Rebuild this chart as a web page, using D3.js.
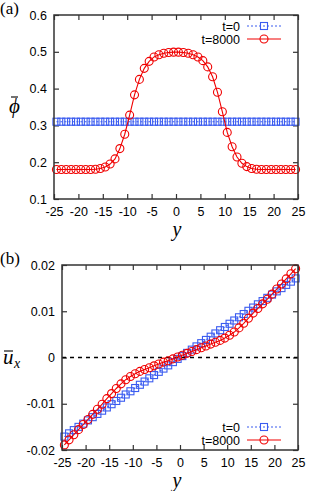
<!DOCTYPE html>
<html lang="en">
<head>
<meta charset="UTF-8">
<title>Order parameter and velocity profiles</title>
<script src="https://d3js.org/d3.v7.min.js"></script>
<style>
  body { margin: 0; background: #fff; }
  .tick text { font-family: "Liberation Sans", Arial, sans-serif; font-size: 12.5px; fill: #000; }
  .tick line { stroke: #333; stroke-width: 1.2; }
  .domain { display: none; }
  .serif { font-family: "Liberation Serif", "DejaVu Serif", serif; fill: #000; }
  .leg { font-family: "Liberation Sans", Arial, sans-serif; font-size: 12.5px; fill: #000; }
</style>
</head>
<body>
<svg id="fig" width="327" height="491"></svg>
<script>
// lattice positions (cell centres) across the channel
const yGrid = [-24.5,-23.5,-22.5,-21.5,-20.5,-19.5,-18.5,-17.5,-16.5,-15.5,
  -14.5,-13.5,-12.5,-11.5,-10.5,-9.5,-8.5,-7.5,-6.5,-5.5,
  -4.5,-3.5,-2.5,-1.5,-0.5,0.5,1.5,2.5,3.5,4.5,
  5.5,6.5,7.5,8.5,9.5,10.5,11.5,12.5,13.5,14.5,
  15.5,16.5,17.5,18.5,19.5,20.5,21.5,22.5,23.5,24.5];

// (a) averaged phi
const phiT0 = [0.31,0.31,0.31,0.31,0.31,0.31,0.31,0.31,0.31,0.31,
  0.31,0.31,0.31,0.31,0.31,0.31,0.31,0.31,0.31,0.31,
  0.31,0.31,0.31,0.31,0.31,0.31,0.31,0.31,0.31,0.31,
  0.31,0.31,0.31,0.31,0.31,0.31,0.31,0.31,0.31,0.31,
  0.31,0.31,0.31,0.31,0.31,0.31,0.31,0.31,0.31,0.31];
const phiT8000 = [0.18,0.18,0.18,0.18,0.18,0.18,0.18,0.18,0.181,0.183,
  0.187,0.195,0.209,0.237,0.276,0.328,0.383,0.425,0.455,0.474,
  0.486,0.492,0.496,0.498,0.499,0.499,0.498,0.496,0.492,0.486,
  0.476,0.459,0.432,0.390,0.337,0.281,0.242,0.214,0.197,0.188,
  0.183,0.181,0.18,0.18,0.18,0.18,0.18,0.18,0.18,0.18];

// (b) averaged u_x
const uxT0 = [-0.0171,-0.0164,-0.0157,-0.0150,-0.0143,-0.0136,-0.0129,-0.0122,-0.0115,-0.0108,
  -0.0101,-0.0094,-0.0087,-0.0080,-0.0073,-0.0066,-0.0059,-0.0052,-0.0045,-0.0038,
  -0.0031,-0.0024,-0.0017,-0.0010,-0.0003,0.0003,0.0010,0.0017,0.0024,0.0031,
  0.0038,0.0045,0.0052,0.0059,0.0066,0.0073,0.0080,0.0087,0.0094,0.0101,
  0.0108,0.0115,0.0122,0.0129,0.0136,0.0143,0.0150,0.0157,0.0164,0.0171];
const uxT8000 = [-0.0189,-0.0178,-0.0167,-0.0156,-0.0145,-0.0134,-0.0123,-0.0112,-0.0101,-0.0089,
  -0.0078,-0.0067,-0.0057,-0.0048,-0.0041,-0.0035,-0.0030,-0.0026,-0.0022,-0.0018,
  -0.0014,-0.0010,-0.0007,-0.0003,0.0001,0.0005,0.0009,0.0013,0.0017,0.0021,
  0.0025,0.0029,0.0033,0.0037,0.0042,0.0048,0.0055,0.0064,0.0074,0.0085,
  0.0096,0.0106,0.0116,0.0126,0.0137,0.0148,0.0159,0.0170,0.0181,0.0192];

const xTicks = [-25,-20,-15,-10,-5,0,5,10,15,20,25];
const phiTicks = [0.1,0.2,0.3,0.4,0.5,0.6];
const uxTicks = [-0.02,-0.01,0,0.01,0.02];
const seriesNames = ["t=0", "t=8000"];

const blue = "#3b5cf0", red = "#f00000";
const svg = d3.select("#fig");

function panel(o) {
  const x = d3.scaleLinear().domain([-25, 25]).range([o.left, o.right]);
  const y = d3.scaleLinear().domain(o.yDomain).range([o.bottom, o.top]);
  const g = svg.append("g");

  // inward ticks on all four sides
  g.append("g").attr("transform", `translate(0,${o.bottom})`)
    .call(d3.axisBottom(x).tickValues(xTicks).tickSize(-5).tickPadding(8).tickFormat(d => d));
  g.append("g").attr("transform", `translate(0,${o.top})`)
    .call(d3.axisTop(x).tickValues(xTicks).tickSize(-5).tickFormat(""));
  g.append("g").attr("transform", `translate(${o.left},0)`)
    .call(d3.axisLeft(y).tickValues(o.yTicks).tickSize(-5).tickPadding(7).tickFormat(o.fmt));
  g.append("g").attr("transform", `translate(${o.right},0)`)
    .call(d3.axisRight(y).tickValues(o.yTicks).tickSize(-5).tickFormat(""));

  if (o.zeroLine) {
    g.append("line")
      .attr("x1", o.left).attr("x2", o.right)
      .attr("y1", y(0)).attr("y2", y(0))
      .attr("stroke", "#000").attr("stroke-width", 1.3).attr("stroke-dasharray", "4,4");
  }

  const line = d3.line().x((d, i) => x(yGrid[i])).y(d => y(d));

  // t=0 : dotted blue with squares
  g.append("path").datum(o.s0).attr("d", line)
    .attr("fill", "none").attr("stroke", blue).attr("stroke-width", 1.1).attr("stroke-dasharray", "2,2");
  g.selectAll(".sq").data(o.s0).enter().append("rect")
    .attr("x", (d, i) => x(yGrid[i]) - 3.5).attr("y", d => y(d) - 3.5)
    .attr("width", 7).attr("height", 7)
    .attr("fill", "none").attr("stroke", blue).attr("stroke-width", 1.1);

  // t=8000 : solid red with circles
  g.append("path").datum(o.s1).attr("d", line)
    .attr("fill", "none").attr("stroke", red).attr("stroke-width", 1.1);
  g.selectAll(".ci").data(o.s1).enter().append("circle")
    .attr("cx", (d, i) => x(yGrid[i])).attr("cy", d => y(d)).attr("r", 4)
    .attr("fill", "none").attr("stroke", red).attr("stroke-width", 1.1);

  // frame
  g.append("rect").attr("x", o.left).attr("y", o.top)
    .attr("width", o.right - o.left).attr("height", o.bottom - o.top)
    .attr("fill", "none").attr("stroke", "#333").attr("stroke-width", 1.5);

  // legend
  const lg = g.append("g");
  [0, 1].forEach(k => {
    const ly = o.legY + k * 13;
    lg.append("text").attr("class", "leg").attr("x", 240).attr("y", ly + 4.5)
      .attr("text-anchor", "end").text(seriesNames[k]);
    lg.append("line").attr("x1", 247).attr("x2", 281).attr("y1", ly).attr("y2", ly)
      .attr("stroke", k ? red : blue).attr("stroke-width", 1.1)
      .attr("stroke-dasharray", k ? null : "2,2");
    if (k) {
      lg.append("circle").attr("cx", 264).attr("cy", ly).attr("r", 4)
        .attr("fill", "none").attr("stroke", red).attr("stroke-width", 1.1);
    } else {
      lg.append("rect").attr("x", 260.5).attr("y", ly - 3.5).attr("width", 7).attr("height", 7)
        .attr("fill", "none").attr("stroke", blue).attr("stroke-width", 1.1);
    }
  });

  // x title
  g.append("text").attr("class", "serif").attr("x", 177).attr("y", o.bottom + 37)
    .attr("text-anchor", "middle").style("font-style", "italic").style("font-size", "20px").text("y");
  // panel tag
  g.append("text").attr("class", "serif").attr("x", 0).attr("y", o.top - 1)
    .style("font-size", "17px").text(o.tag);
}

panel({ left: 54, right: 298, top: 15, bottom: 199, yDomain: [0.1, 0.6], yTicks: phiTicks,
  fmt: d => d.toFixed(1), s0: phiT0, s1: phiT8000, legY: 26, tag: "(a)" });
panel({ left: 62, right: 298, top: 265, bottom: 450, yDomain: [-0.02, 0.02], yTicks: uxTicks,
  fmt: d => d === 0 ? "0" : d.toFixed(2), s0: uxT0, s1: uxT8000, legY: 427, tag: "(b)", zeroLine: true });

// y titles: phi-bar and u-bar_x
svg.append("text").attr("class", "serif").attr("x", 9).attr("y", 113)
  .style("font-style", "italic").style("font-size", "21px").text("ϕ");
svg.append("line").attr("x1", 11).attr("x2", 18).attr("y1", 97).attr("y2", 97)
  .attr("stroke", "#000").attr("stroke-width", 1.1);

svg.append("text").attr("class", "serif").attr("x", 3).attr("y", 364)
  .style("font-style", "italic").style("font-size", "21px").text("u");
svg.append("line").attr("x1", 4).attr("x2", 13).attr("y1", 351).attr("y2", 351)
  .attr("stroke", "#000").attr("stroke-width", 1.1);
svg.append("text").attr("class", "serif").attr("x", 14).attr("y", 368)
  .style("font-style", "italic").style("font-size", "14px").text("x");
</script>
</body>
</html>
